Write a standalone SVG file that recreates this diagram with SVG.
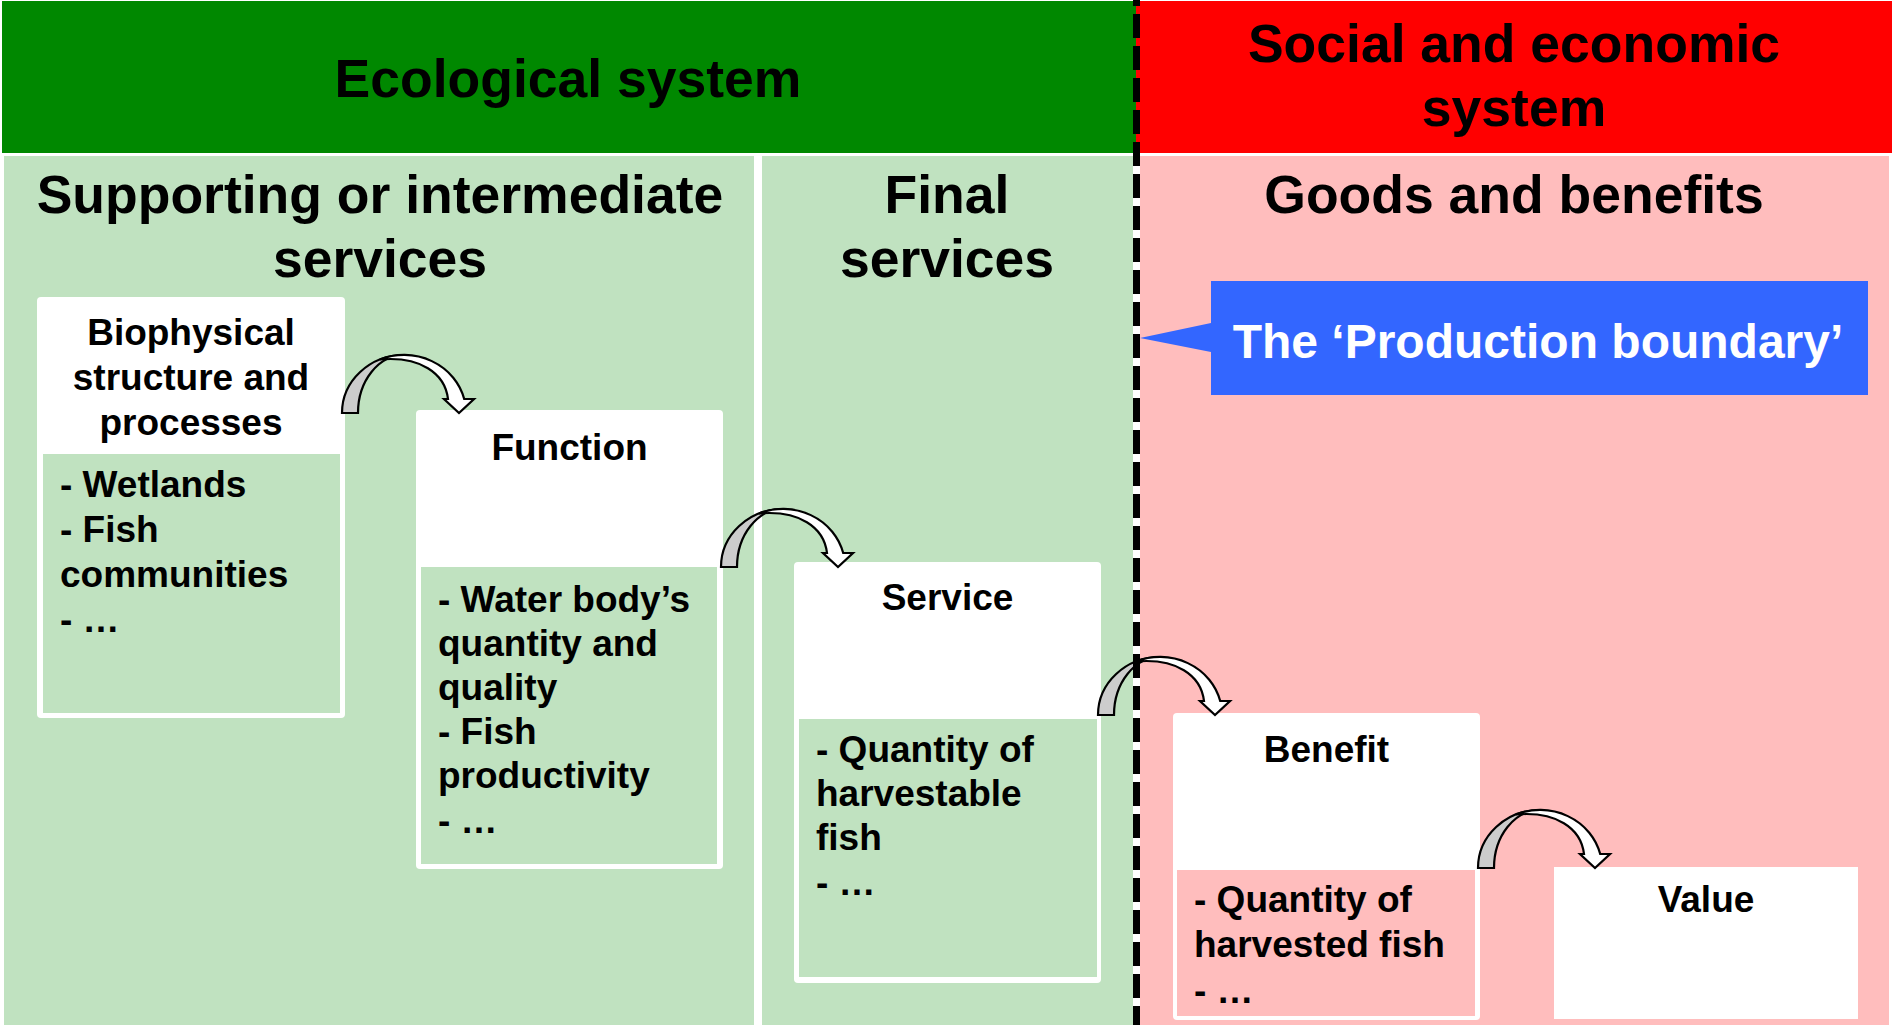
<svg xmlns="http://www.w3.org/2000/svg" xmlns:xlink="http://www.w3.org/1999/xlink" width="1892" height="1025" viewBox="0 0 1892 1025">
  <style>
    text { font-family: "Liberation Sans", Arial, Helvetica, sans-serif; font-weight: bold; fill: #000; }
    .head { font-size: 53.5px; text-anchor: middle; }
    .title { font-size: 37px; text-anchor: middle; }
    .body { font-size: 37px; }
    .callout { font-size: 48px; fill: #fff; text-anchor: middle; }
    .card { fill: #fff; }
    .eco { fill: #c0e2c0; }
    .soc { fill: #ffbdbd; }
    .back { fill: #cccccc; stroke: #000; stroke-width: 2.2; stroke-linejoin: miter; }
    .front { fill: #fff; stroke: #000; stroke-width: 2.2; stroke-linejoin: miter; }
  </style>
  <defs>
    <!-- curved down block arrow, origin at the outer bottom corner of its foot -->
    <g id="curved-arrow">
      <path class="back" d="M0,0 A62,58 0 0 1 62,-58 A46,58 0 0 0 16,0 Z"/>
      <path class="front" d="M38,-53.5 A62,58 0 0 1 122.2,-14 L132,-14 L117,0 L102,-14 L106,-14 C103,-40 78,-57 38,-53.5 Z"/>
    </g>
  </defs>

  <rect width="1892" height="1025" fill="#fff"/>

  <!-- system headers -->
  <g id="ecological-system">
    <rect x="2" y="1" width="1134" height="152" fill="#008800"/>
    <text class="head" x="568" y="97">Ecological system</text>
  </g>
  <g id="social-economic-system">
    <rect x="1136" y="1" width="756" height="152" fill="#ff0000"/>
    <text class="head" x="1514" y="62">Social and economic</text>
    <text class="head" x="1514" y="126">system</text>
  </g>

  <!-- columns -->
  <g id="supporting-services">
    <rect class="eco" x="4" y="156" width="750" height="869"/>
    <text class="head" x="380" y="213">Supporting or intermediate</text>
    <text class="head" x="380" y="277">services</text>
  </g>
  <g id="final-services">
    <rect class="eco" x="762" y="156" width="371" height="869"/>
    <text class="head" x="947" y="213">Final</text>
    <text class="head" x="947" y="277">services</text>
  </g>
  <g id="goods-benefits">
    <rect class="soc" x="1140" y="156" width="749" height="869"/>
    <text class="head" x="1514" y="213">Goods and benefits</text>
  </g>

  <!-- cards -->
  <g id="biophysical">
    <rect class="card" x="37" y="297" width="308" height="421" rx="4"/>
    <rect class="eco" x="43" y="454" width="297" height="259"/>
    <text class="title" x="191" y="345">Biophysical</text>
    <text class="title" x="191" y="390">structure and</text>
    <text class="title" x="191" y="435">processes</text>
    <text class="body" x="60" y="497">- Wetlands</text>
    <text class="body" x="60" y="542">- Fish</text>
    <text class="body" x="60" y="587">communities</text>
    <text class="body" x="60" y="632">- …</text>
  </g>

  <g id="function">
    <rect class="card" x="416" y="410" width="307" height="459" rx="4"/>
    <rect class="eco" x="421" y="567" width="296" height="297"/>
    <text class="title" x="569.5" y="460">Function</text>
    <text class="body" x="438" y="612">- Water body’s</text>
    <text class="body" x="438" y="656">quantity and</text>
    <text class="body" x="438" y="700">quality</text>
    <text class="body" x="438" y="744">- Fish</text>
    <text class="body" x="438" y="788">productivity</text>
    <text class="body" x="438" y="833">- …</text>
  </g>

  <g id="service">
    <rect class="card" x="794" y="562" width="307" height="421" rx="4"/>
    <rect class="eco" x="799" y="719" width="298" height="258"/>
    <text class="title" x="947.5" y="610">Service</text>
    <text class="body" x="816" y="762">- Quantity of</text>
    <text class="body" x="816" y="806">harvestable</text>
    <text class="body" x="816" y="850">fish</text>
    <text class="body" x="816" y="895">- …</text>
  </g>

  <g id="benefit">
    <rect class="card" x="1173" y="713" width="307" height="307" rx="4"/>
    <rect class="soc" x="1177" y="870" width="298" height="146"/>
    <text class="title" x="1326.5" y="762">Benefit</text>
    <text class="body" x="1194" y="912">- Quantity of</text>
    <text class="body" x="1194" y="957">harvested fish</text>
    <text class="body" x="1194" y="1003">- …</text>
  </g>

  <g id="value">
    <rect class="card" x="1554" y="867" width="304" height="152"/>
    <text class="title" x="1706" y="912">Value</text>
  </g>

  <!-- callout naming the boundary line -->
  <g id="production-boundary">
    <path d="M1211,281 H1868 V395 H1211 V352 L1140,338 L1211,323 Z" fill="#3366ff"/>
    <text class="callout" x="1538" y="358">The ‘Production boundary’</text>
  </g>

  <g id="connectors">
    <use xlink:href="#curved-arrow" x="342" y="413"/>
    <use xlink:href="#curved-arrow" x="721" y="567"/>
    <use xlink:href="#curved-arrow" x="1098" y="715"/>
    <use xlink:href="#curved-arrow" x="1478" y="868"/>
  </g>

  <!-- boundary between the two systems -->
  <g id="boundary-line">
    <line x1="1136.5" y1="0" x2="1136.5" y2="1025" stroke="#000" stroke-width="7" stroke-dasharray="24 8" stroke-dashoffset="18"/>
  </g>
</svg>
